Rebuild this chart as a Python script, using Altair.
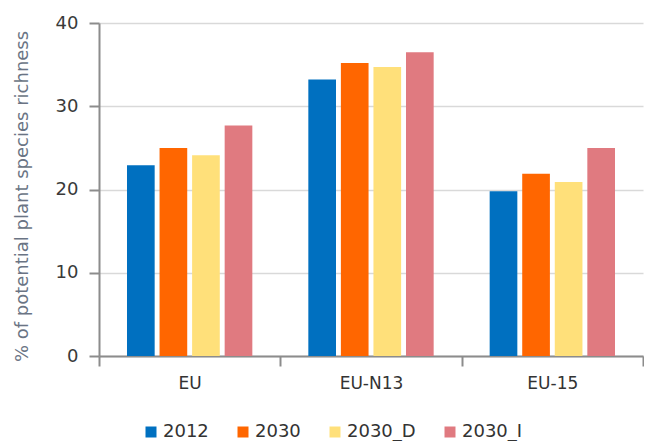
import altair as alt
import pandas as pd

regions = ["EU", "EU-N13", "EU-15"]
series = ["2012", "2030", "2030_D", "2030_I"]
v2012 = [22.9, 33.2, 19.8]
v2030 = [25.0, 35.2, 21.9]
v2030_D = [24.1, 34.7, 20.9]
v2030_I = [27.7, 36.5, 25.0]
colors = ["#0070C0", "#FF6600", "#FFE07A", "#E07A80"]
y_ticks = [0, 10, 20, 30, 40]

rows = []
for s, vals in zip(series, [v2012, v2030, v2030_D, v2030_I]):
    for r, v in zip(regions, vals):
        rows.append({"region": r, "series": s, "value": v})
df = pd.DataFrame(rows)

font = "DejaVu Sans"
axis_gray = "#8c8c8c"

chart = alt.Chart(df).mark_bar().encode(
    x=alt.X(
        "region:N", sort=regions,
        scale=alt.Scale(paddingInner=0, paddingOuter=0),
        axis=alt.Axis(title=None, labelAngle=0, tickBand="extent", grid=False,
                      domainColor=axis_gray, domainWidth=2, tickColor=axis_gray,
                      tickWidth=2, tickSize=10, labelPadding=9, labelFontSize=17,
                      labelColor="#333333", labelFont=font),
    ),
    xOffset=alt.XOffset("series:N", sort=series,
                        scale=alt.Scale(paddingInner=0.15, paddingOuter=0.86)),
    y=alt.Y(
        "value:Q",
        scale=alt.Scale(domain=[0, 40]),
        axis=alt.Axis(values=y_ticks, title="% of potential plant  species richness",
                      titleFontSize=18, titleFontWeight="normal", titleColor="#6a7484",
                      titleFont=font, titlePadding=24, titleY=173,
                      labelFontSize=18, labelColor="#3a3a3a", labelFont=font,
                      labelPadding=11, tickSize=10, tickColor=axis_gray, tickWidth=2,
                      domainColor=axis_gray, domainWidth=2,
                      gridColor="#d9d9d9", gridWidth=1.5),
    ),
    color=alt.Color(
        "series:N", sort=series,
        scale=alt.Scale(domain=series, range=colors),
        legend=alt.Legend(title=None, orient="none", legendX=43, legendY=400,
                          direction="horizontal", symbolType="square", symbolSize=121,
                          symbolStrokeWidth=0, labelFontSize=18, labelFont=font,
                          labelColor="#333333", columnPadding=25, padding=0,
                          labelOffset=3),
    ),
).properties(
    width=544, height=333,
    padding={"left": 5, "top": 6, "right": 0, "bottom": 0},
).configure_view(stroke=None)

chart.save("out.html", embed_options={"renderer": "svg", "actions": False})
